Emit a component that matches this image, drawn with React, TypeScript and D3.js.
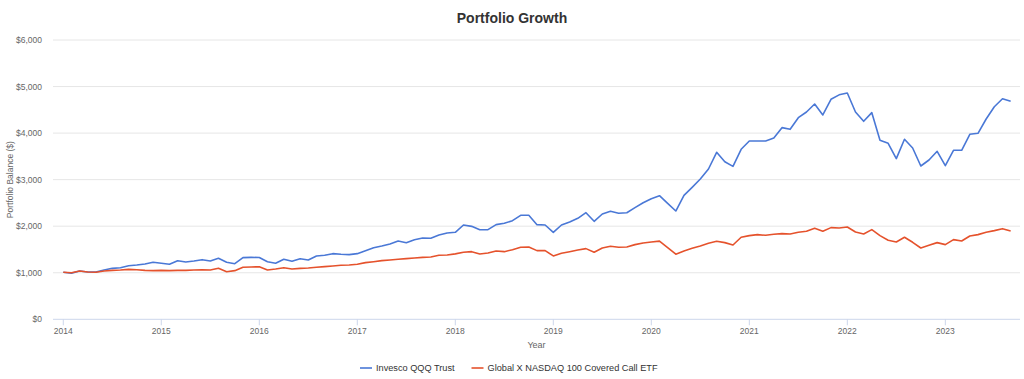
import React from "react";
import * as d3 from "d3";

const startYear = 2014;
const qqqValues = [
  1010, 990, 1037, 1016, 1016, 1059, 1095, 1109, 1152, 1166, 1188, 1224,
  1203, 1181, 1259, 1231, 1252, 1281, 1252, 1310, 1224, 1195, 1324, 1331,
  1328, 1238, 1203, 1289, 1246, 1302, 1274, 1360, 1375, 1410, 1396, 1390,
  1410, 1474, 1538, 1575, 1618, 1682, 1646, 1710, 1747, 1740, 1811, 1854,
  1869, 2026, 1997, 1925, 1925, 2033, 2062, 2118, 2234, 2234, 2033, 2026,
  1869, 2026, 2090, 2170, 2290, 2105, 2262, 2320, 2277, 2290, 2398, 2505,
  2590, 2655, 2492, 2326, 2663, 2835, 3014, 3229, 3587, 3386, 3286, 3652,
  3830, 3830, 3830, 3895, 4117, 4081, 4331, 4453, 4625, 4389, 4726, 4822,
  4862, 4453, 4253, 4439, 3845, 3781, 3451, 3867, 3680, 3293, 3422, 3609,
  3300, 3630, 3630, 3974, 3996, 4303, 4567, 4739, 4683,
];
const qyldValues = [
  1010, 1000, 1037, 1016, 1010, 1037, 1052, 1059, 1073, 1066, 1052, 1045,
  1052, 1045, 1052, 1052, 1059, 1066, 1059, 1095, 1023, 1045, 1117, 1124,
  1128, 1059, 1081, 1109, 1081, 1095, 1102, 1117, 1131, 1145, 1160, 1167,
  1181, 1217, 1238, 1260, 1274, 1289, 1303, 1317, 1331, 1339, 1375, 1382,
  1406, 1439, 1453, 1403, 1425, 1468, 1453, 1496, 1547, 1554, 1475, 1475,
  1361, 1418, 1453, 1489, 1518, 1439, 1532, 1568, 1547, 1554, 1604, 1639,
  1661, 1679, 1540, 1400, 1468, 1525, 1575, 1632, 1675, 1647, 1597, 1762,
  1797, 1819, 1804, 1826, 1840, 1833, 1869, 1890, 1955, 1890, 1969, 1962,
  1983, 1876, 1833, 1926, 1797, 1697, 1661, 1762, 1654, 1532, 1590, 1647,
  1604, 1711, 1683, 1790, 1819, 1869, 1905, 1947, 1897,
];
const seriesNames = ["Invesco QQQ Trust", "Global X NASDAQ 100 Covered Call ETF"];
const seriesColors = ["#4a78d6", "#e5522c"];
const xTickYears = [2014, 2015, 2016, 2017, 2018, 2019, 2020, 2021, 2022, 2023];
const yTickValues = [0, 1000, 2000, 3000, 4000, 5000, 6000];

const W = 1024;
const H = 379;
const left = 53;
const right = 1020;
const top = 40;
const bottom = 319.3;
const font = "'Liberation Sans', Arial, Helvetica, sans-serif";

export default function App() {
  const x = d3.scaleLinear().domain([2013.895, 2023.762]).range([left, right]);
  const y = d3.scaleLinear().domain([0, 6000]).range([bottom, top]);
  const fmt = d3.format(",");
  const line = d3
    .line<number>()
    .x((_, i) => x(startYear + i / 12))
    .y((d) => y(d));
  const series = [qqqValues, qyldValues];

  return (
    <svg
      width={W}
      height={H}
      style={{ position: "absolute", left: 0, top: 0, background: "#fff" }}
      fontFamily={font}
    >
      <text x={512} y={23} textAnchor="middle" fontSize={14} fontWeight="bold" fill="#333">
        Portfolio Growth
      </text>
      {yTickValues.map((v) => (
        <g key={v}>
          {v > 0 && (
            <line x1={left} x2={right} y1={y(v)} y2={y(v)} stroke="#e6e6e6" strokeWidth={1} />
          )}
          <text x={42} y={y(v) + 3} textAnchor="end" fontSize={8.5} fill="#666">
            {"$" + fmt(v)}
          </text>
        </g>
      ))}
      <line x1={left} x2={right} y1={bottom} y2={bottom} stroke="#ccd6eb" strokeWidth={1} />
      {xTickYears.map((yr) => (
        <g key={yr}>
          <line x1={x(yr)} x2={x(yr)} y1={bottom} y2={bottom + 6} stroke="#ccd6eb" strokeWidth={1} />
          <text x={x(yr)} y={333.5} textAnchor="middle" fontSize={8.5} fill="#666">
            {yr}
          </text>
        </g>
      ))}
      <text x={(left + right) / 2} y={347.5} textAnchor="middle" fontSize={9} fill="#666">
        Year
      </text>
      <text
        transform={`translate(13, ${(top + bottom) / 2}) rotate(-90)`}
        textAnchor="middle"
        fontSize={8.5}
        fill="#666"
      >
        Portfolio Balance ($)
      </text>
      {series.map((s, k) => (
        <path
          key={k}
          d={line(s) || ""}
          fill="none"
          stroke={seriesColors[k]}
          strokeWidth={1.6}
          strokeLinejoin="round"
        />
      ))}
      {seriesNames.map((name, k) => {
        const lx = k === 0 ? 360 : 471.5;
        return (
          <g key={name}>
            <line x1={lx} x2={lx + 12} y1={368} y2={368} stroke={seriesColors[k]} strokeWidth={1.6} />
            <text x={lx + 16} y={371} fontSize={9.2} fill="#333">
              {name}
            </text>
          </g>
        );
      })}
    </svg>
  );
}
